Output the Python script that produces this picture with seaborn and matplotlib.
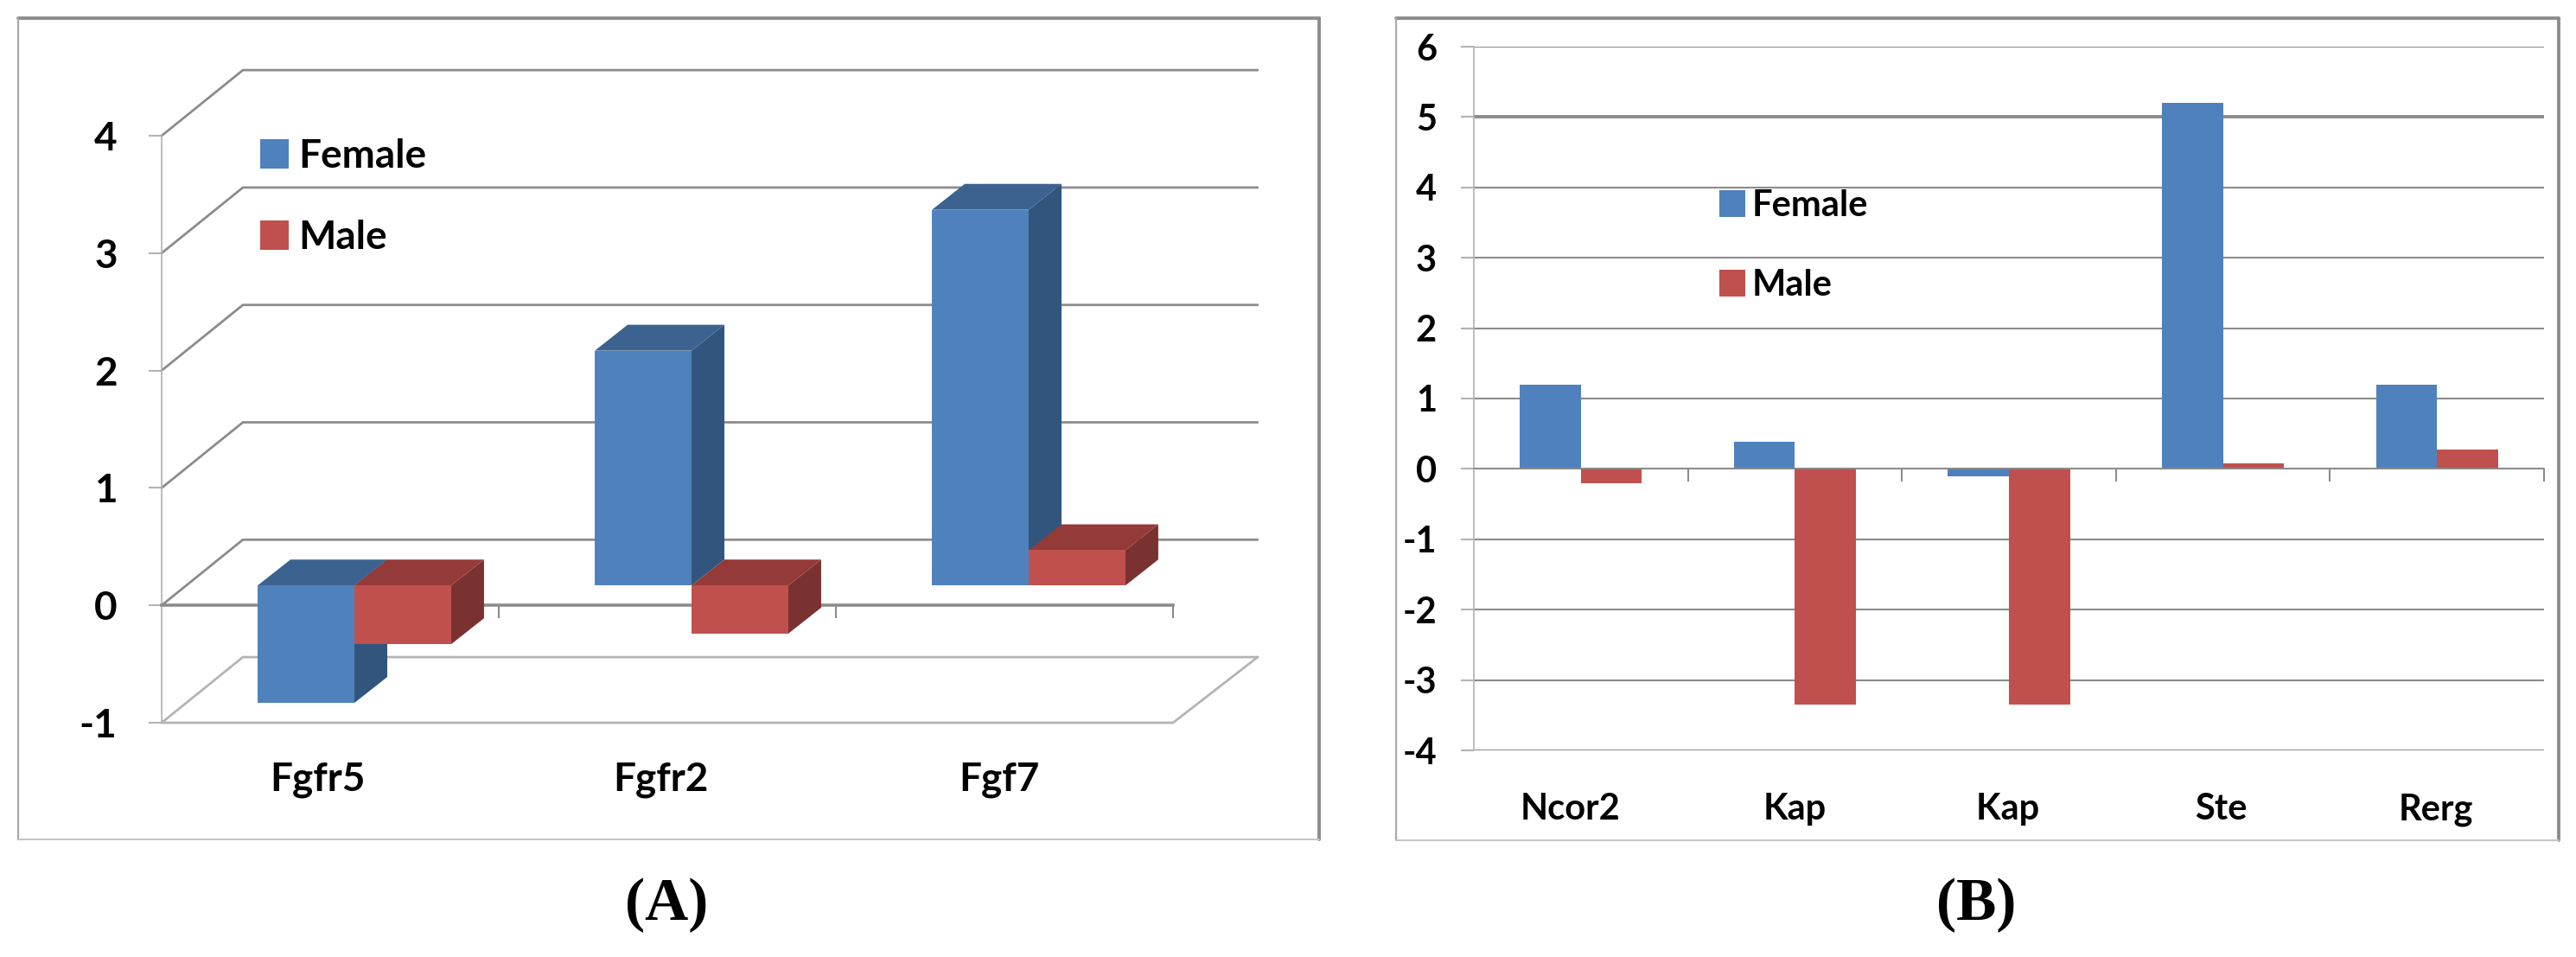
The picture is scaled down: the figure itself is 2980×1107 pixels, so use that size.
import pandas as pd
import matplotlib.pyplot as plt
import seaborn as sns
from matplotlib.lines import Line2D
from matplotlib.patches import Polygon
from matplotlib.transforms import ScaledTranslation

W, H = 2980, 1107

genes_a = ['Fgfr5', 'Fgfr2', 'Fgf7']
female_a = [-1.0, 2.0, 3.2]
male_a = [-0.5, -0.41, 0.3]

genes_b = ['Ncor2', 'Kap', 'Kap ', 'Ste', 'Rerg']
female_b = [1.2, 0.38, -0.1, 5.2, 1.2]
male_b = [-0.2, -3.35, -3.35, 0.08, 0.28]

sexes = ['Female', 'Male']
colors = {'Female': '#4F81BD', 'Male': '#C0504D'}
side_colors = {'Female': '#32557D', 'Male': '#7A3231'}
top_colors = {'Female': '#3C628F', 'Male': '#943A38'}

GRID = '#8C8C8C'
LIGHT = '#B4B4B4'
FONT = ['Lato', 'DejaVu Sans']


def fx(x):
    return x / W


def fy(y):
    return 1 - y / H


def axes_at(fig, x0, y_top, x1, y_bottom):
    return fig.add_axes([fx(x0), fy(y_bottom), (x1 - x0) / W, (y_bottom - y_top) / H])


def frame(fig, x0, y0, x1, y1):
    # thick on top and right, thin on the other two sides
    for xs, ys, c, lw in [([x0, x1], [y0, y0], GRID, 2.8), ([x1, x1], [y0, y1], GRID, 2.8),
                          ([x0, x0], [y0, y1], '#A8A8A8', 1.6), ([x0, x1], [y1, y1], '#C4C4C4', 1.4)]:
        fig.add_artist(Line2D([fx(v) for v in xs], [fy(v) for v in ys], color=c, lw=lw))


def long_table(genes, female, male):
    return pd.DataFrame({
        'gene': genes * 2,
        'sex': ['Female'] * len(genes) + ['Male'] * len(genes),
        'value': female + male,
    })


def bars(ax, df, width):
    sns.barplot(data=df, x='gene', y='value', hue='sex', hue_order=sexes, palette=colors,
                saturation=1, width=width, gap=0, errorbar=None, ax=ax, linewidth=0)


def axis_style(ax, size, pad_x, pad_y, tick_color):
    ax.set_xlabel('')
    ax.set_ylabel('')
    for name in ['top', 'right']:
        ax.spines[name].set_visible(False)
    ax.spines['bottom'].set_position(('data', 0))
    ax.spines['bottom'].set_color(tick_color)
    ax.spines['left'].set_color(LIGHT)
    ax.tick_params(axis='x', which='major', bottom=False, length=0, pad=pad_x, labelsize=size, labelcolor='black')
    ax.tick_params(axis='x', which='minor', bottom=True, length=11, width=1.5, color=tick_color)
    ax.tick_params(axis='y', left=True, length=11, width=1.5, color=LIGHT, pad=pad_y, labelsize=size, labelcolor='black')
    for t in ax.get_xticklabels() + ax.get_yticklabels():
        t.set_fontweight('bold')
        t.set_family(FONT)


def nudge_labels(ax, fig, offsets):
    # labels in the source are not quite centred on their groups
    for t, dx in zip(ax.get_xticklabels(), offsets):
        t.set_transform(t.get_transform() + ScaledTranslation(dx / 100, 0, fig.dpi_scale_trans))


def legend(ax, fig, x, y, size, spacing, pad):
    sns.move_legend(ax, 'upper left', bbox_to_anchor=(fx(x), fy(y)), bbox_transform=fig.transFigure,
                    frameon=False, title=None, prop={'family': FONT, 'size': size, 'weight': 'bold'},
                    labelcolor='black', handlelength=0.72, handleheight=0.75, handletextpad=pad,
                    labelspacing=spacing, borderpad=0, borderaxespad=0)


sns.set_theme(style='white')
plt.rcParams['font.family'] = FONT
plt.rcParams['axes.unicode_minus'] = False

fig = plt.figure(figsize=(W / 100, H / 100), dpi=100, facecolor='white')
frame(fig, 21, 21, 1526, 971)
frame(fig, 1615, 21, 2960, 972)

# panel A, excel style 3d columns
ax_a = axes_at(fig, 187, 157, 1357, 836)
ax_a.patch.set_alpha(0)
bars(ax_a, long_table(genes_a, female_a, male_a), 0.574)
ax_a.set_xlim(-0.5, 2.5)
ax_a.set_ylim(-1, 4)
ax_a.set_yticks(range(-1, 5))
ax_a.set_xticks([0.5, 1.5, 2.5], minor=True)
axis_style(ax_a, 33, 130, 26, GRID)
nudge_labels(ax_a, fig, [-15, -8, -6])
ax_a.spines['bottom'].set_linewidth(2.6)

wall_x = 94 / 390
wall_y = 76 / 136
for level in range(-1, 5):
    c = LIGHT if level == -1 else GRID
    ax_a.plot([-0.5, -0.5 + wall_x, 2.5 + wall_x + 0.01], [level, level + wall_y, level + wall_y],
              color=c, lw=2.0, clip_on=False, zorder=1, solid_joinstyle='miter')
ax_a.plot([-0.5, 2.5, 2.5 + wall_x + 0.01], [-1, -1, -1 + wall_y], color=LIGHT, lw=2.0, clip_on=False, zorder=1)

# columns stand a bit behind the front edge of the floor
shift_x = 28 / 390
shift_y = 23 / 136
depth_x = 38 / 390
depth_y = 30 / 136
for i, (sex, cont) in enumerate(zip(sexes, ax_a.containers)):
    for rect in cont:
        rect.set_x(rect.get_x() + shift_x)
        rect.set_y(rect.get_y() + shift_y)
        rect.set_zorder(3.2 + i)
        rect.set_clip_on(False)
        x0, x1 = rect.get_x(), rect.get_x() + rect.get_width()
        y0 = min(rect.get_y(), rect.get_y() + rect.get_height())
        y1 = max(rect.get_y(), rect.get_y() + rect.get_height())
        side = [(x1, y0), (x1 + depth_x, y0 + depth_y), (x1 + depth_x, y1 + depth_y), (x1, y1)]
        top = [(x0, y1), (x1, y1), (x1 + depth_x, y1 + depth_y), (x0 + depth_x, y1 + depth_y)]
        ax_a.add_patch(Polygon(side, facecolor=side_colors[sex], edgecolor='none', zorder=3.1 + i, clip_on=False))
        ax_a.add_patch(Polygon(top, facecolor=top_colors[sex], edgecolor='none', zorder=3.1 + i, clip_on=False))
legend(ax_a, fig, 301, 160, 33, 1.13, 0.24)

# panel B, flat columns
ax_b = axes_at(fig, 1705, 54, 2943, 868)
ax_b.patch.set_alpha(0)
bars(ax_b, long_table(genes_b, female_b, male_b), 0.57)
ax_b.set_xlim(-0.5, 4.5)
ax_b.set_ylim(-4, 6)
ax_b.set_yticks(range(-4, 7))
ax_b.set_xticks([0.5, 1.5, 2.5, 3.5, 4.5], minor=True)
ax_b.grid(axis='y', color=GRID, lw=1.5)
ax_b.set_axisbelow(True)
ax_b.get_ygridlines()[9].set_linewidth(2.8)
axis_style(ax_b, 30, 270, 20, GRID)
nudge_labels(ax_b, fig, [-12, 0, 4, -2, -1])
legend(ax_b, fig, 1989, 219, 30, 1.3, 0.18)

fig.text(fx(771), fy(1047), '(A)', family='Liberation Serif', weight='bold', size=50, ha='center', va='center', color='black')
fig.text(fx(2286), fy(1047), '(B)', family='Liberation Serif', weight='bold', size=50, ha='center', va='center', color='black')

fig.savefig('out.png', dpi=100)
plt.close(fig)
